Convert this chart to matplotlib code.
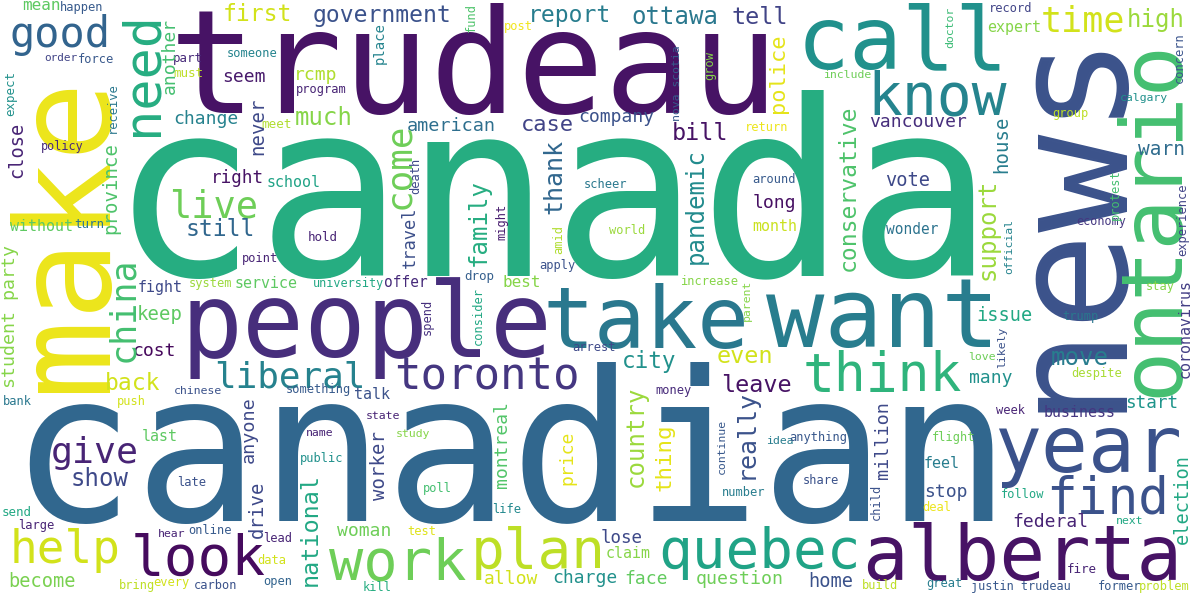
import matplotlib
matplotlib.use("Agg")
import matplotlib.pyplot as plt

# Words of the cloud
WORDS = [
    "canada", "canadian", "trudeau", "news", "make", "people", "call", "take", "want",
    "ontario", "alberta", "year", "quebec", "look", "help", "work", "plan", "know",
    "think", "good", "need", "toronto", "liberal", "find", "time", "high", "live",
    "give", "still", "first", "government", "report", "ottawa", "tell", "mean",
    "happen", "order", "force", "someone", "part", "must", "seem", "change", "meet",
    "policy", "right", "school", "post", "rcmp", "program", "much", "american", "case",
    "company", "scheer", "include", "bill", "return", "vancouver", "around", "long",
    "vote", "record", "expert", "calgary", "group", "warn", "without", "turn", "point",
    "fight", "system", "service", "keep", "cost", "back", "chinese", "something", "bank",
    "push", "talk", "hold", "apply", "university", "offer", "drop", "best", "arrest",
    "world", "month", "wonder", "increase", "city", "even", "leave", "money", "issue",
    "economy", "stay", "trump", "love", "move", "many", "despite", "start", "last",
    "show", "late", "send", "large", "hear", "online", "lead", "become", "data", "bring",
    "every", "carbon", "open", "state", "name", "study", "public", "poll", "life",
    "woman", "test", "allow", "charge", "kill", "idea", "anything", "share", "number",
    "lose", "claim", "face", "question", "home", "build", "week", "business", "flight",
    "feel", "stop", "follow", "deal", "federal", "next", "fire", "great",
    "justin trudeau", "former", "problem",
    # vertical words
    "another", "expect", "receive", "never", "close", "province", "place", "fund",
    "come", "thank", "death", "family", "travel", "police", "nova scotia", "grow",
    "pandemic", "conservative", "doctor", "concern", "house", "support", "protest",
    "experience", "student party", "china", "might", "amid", "spend", "consider",
    "parent", "official", "coronavirus", "likely", "anyone", "drive", "national",
    "worker", "montreal", "price", "country", "thing", "really", "continue", "million",
    "child", "election",
]

# Layout: (centre along word, baseline, em px, rotation, viridis value)
# For rotation 0: (centre x, baseline y); for rotation 90: (baseline x, centre y)
LAYOUT = {
    "canada": (552, 275, 245, 0, 0.62),
    "canadian": (510, 521, 208, 0, 0.33),
    "trudeau": (474, 113, 145, 0, 0.05),
    "news": (1113, 216, 163, 90, 0.25),
    "make": (104, 233, 132, 90, 0.97),
    "people": (367, 357, 103, 0, 0.13),
    "call": (903, 68, 88, 0, 0.50),
    "take": (646, 348, 86, 0, 0.40),
    "want": (883, 347, 97, 0, 0.42),
    "ontario": (1177, 218, 85, 90, 0.70),
    "alberta": (1022, 580, 76, 0, 0.05),
    "year": (1088, 472, 78, 0, 0.25),
    "quebec": (760, 568, 56, 0, 0.58),
    "look": (198, 575, 56, 0, 0.03),
    "help": (65, 563, 46, 0, 0.93),
    "work": (398, 580, 57, 0, 0.78),
    "plan": (538, 568, 56, 0, 0.90),
    "know": (937, 115, 58, 0, 0.45),
    "think": (882, 391, 53, 0, 0.65),
    "good": (60, 47, 42, 0, 0.32),
    "need": (157, 73, 52, 90, 0.62),
    "toronto": (487, 390, 44, 0, 0.16),
    "liberal": (290, 387, 36, 0, 0.44),
    "find": (1108, 513, 51, 0, 0.25),
    "time": (1083, 32, 35, 0, 0.93),
    "high": (1156, 27, 24, 0, 0.85),
    "live": (214, 218, 37, 0, 0.78),
    "give": (95, 463, 36.5, 0, 0.10),
    "still": (220, 236, 23, 0, 0.33),
    "first": (257, 21, 23, 0, 0.93),
    "government": (382, 22, 23, 0, 0.25),
    "report": (570, 22, 23, 0, 0.42),
    "ottawa": (675, 24, 24, 0, 0.40),
    "tell": (760, 24, 23.5, 0, 0.20),
    "mean": (41, 10, 16, 0, 0.75),
    "happen": (82, 11, 12, 0, 0.28),
    "order": (61, 61, 11, 0, 0.20),
    "force": (96, 63, 12, 0, 0.27),
    "someone": (252, 57, 12, 0, 0.45),
    "part": (188, 62, 12.5, 0, 0.12),
    "must": (188, 77, 12.5, 0, 0.90),
    "seem": (244, 82, 18, 0, 0.07),
    "change": (206, 124, 18, 0, 0.44),
    "meet": (277, 128, 12.6, 0, 0.88),
    "policy": (62, 150, 11.7, 0, 0.12),
    "right": (237, 183, 17.6, 0, 0.05),
    "school": (294, 187, 15, 0, 0.58),
    "post": (518, 30, 12, 0, 0.98),
    "rcmp": (316, 80, 18, 0, 0.88),
    "program": (321, 93, 12, 0, 0.10),
    "much": (324, 125, 24, 0, 0.82),
    "american": (451, 131, 18.5, 0, 0.36),
    "case": (547, 131, 22, 0, 0.20),
    "company": (616, 122, 18, 0, 0.25),
    "scheer": (606, 188, 12, 0, 0.40),
    "include": (847, 78, 11.5, 0, 0.78),
    "bill": (700, 140, 23.5, 0, 0.05),
    "return": (767, 131, 12, 0, 0.97),
    "vancouver": (918, 127, 18, 0, 0.13),
    "around": (774, 183, 12, 0, 0.28),
    "long": (774, 208, 18, 0, 0.04),
    "vote": (908, 186, 18.7, 0, 0.22),
    "record": (1011, 12, 12, 0, 0.20),
    "expert": (1014, 32, 15, 0, 0.82),
    "calgary": (1144, 101, 11.5, 0, 0.50),
    "group": (1070, 117, 12, 0, 0.90),
    "warn": (1162, 155, 19.5, 0, 0.35),
    "without": (41, 231, 15, 0, 0.75),
    "turn": (89, 228, 12.5, 0, 0.40),
    "point": (260, 262, 12, 0, 0.10),
    "fight": (160, 292, 15, 0, 0.22),
    "system": (211, 287, 12, 0, 0.85),
    "service": (266, 288, 15, 0, 0.75),
    "keep": (160, 320, 19, 0, 0.75),
    "cost": (154, 356, 18, 0, 0.02),
    "back": (133, 390, 23, 0, 0.93),
    "chinese": (198, 394, 11.5, 0, 0.25),
    "something": (318, 393, 12, 0, 0.28),
    "bank": (17, 405, 12, 0, 0.40),
    "push": (131, 405, 12, 0, 0.93),
    "talk": (372, 399, 15, 0, 0.25),
    "hold": (323, 241, 12.5, 0, 0.10),
    "apply": (557, 269, 12, 0, 0.25),
    "university": (349, 287, 11.7, 0, 0.60),
    "offer": (406, 287, 14.5, 0, 0.12),
    "drop": (479, 280, 12.5, 0, 0.30),
    "best": (522, 287, 16, 0, 0.82),
    "arrest": (594, 351, 12, 0, 0.22),
    "world": (627, 234, 12, 0, 0.85),
    "month": (775, 231, 15, 0, 0.92),
    "wonder": (912, 234, 14.5, 0, 0.38),
    "increase": (709, 285, 12, 0, 0.82),
    "city": (649, 368, 22.6, 0, 0.50),
    "even": (745, 363, 23.5, 0, 0.93),
    "leave": (756, 392, 23.5, 0, 0.05),
    "money": (674, 394, 12, 0, 0.12),
    "issue": (1005, 321, 18.6, 0, 0.60),
    "economy": (1101, 225, 11.7, 0, 0.16),
    "stay": (1160, 290, 12, 0, 0.82),
    "trump": (1080, 320, 12, 0, 0.40),
    "love": (982, 360, 11.5, 0, 0.78),
    "move": (1080, 365, 24, 0, 0.42),
    "many": (991, 383, 18, 0, 0.50),
    "despite": (1097, 377, 12, 0, 0.87),
    "start": (1152, 408, 17.6, 0, 0.52),
    "last": (160, 441, 15, 0, 0.75),
    "show": (100, 486, 24, 0, 0.22),
    "late": (192, 486, 12, 0, 0.25),
    "send": (17, 516, 12.5, 0, 0.60),
    "large": (36, 529, 12, 0, 0.10),
    "hear": (172, 537, 11.5, 0, 0.10),
    "online": (210, 534, 12, 0, 0.28),
    "lead": (278, 542, 12, 0, 0.10),
    "become": (42, 587, 18.6, 0, 0.80),
    "data": (272, 564, 12, 0, 0.93),
    "bring": (137, 589, 12, 0, 0.90),
    "every": (171, 586, 12, 0, 0.93),
    "carbon": (216, 589, 12, 0, 0.25),
    "open": (278, 585, 12, 0, 0.32),
    "state": (383, 419, 11.5, 0, 0.10),
    "name": (320, 436, 11.5, 0, 0.10),
    "study": (413, 437, 11.5, 0, 0.82),
    "public": (322, 462, 12, 0, 0.50),
    "poll": (437, 492, 12, 0, 0.70),
    "life": (507, 513, 12, 0, 0.47),
    "woman": (364, 536, 18, 0, 0.78),
    "test": (422, 535, 12, 0, 0.95),
    "allow": (511, 584, 18, 0, 0.93),
    "charge": (585, 583, 18, 0, 0.50),
    "kill": (377, 591, 12, 0, 0.62),
    "idea": (780, 444, 11.5, 0, 0.42),
    "anything": (818, 441, 12, 0, 0.27),
    "share": (821, 484, 12, 0, 0.25),
    "number": (744, 496, 12, 0, 0.42),
    "lose": (622, 543, 17.5, 0, 0.22),
    "claim": (628, 558, 15, 0, 0.82),
    "face": (646, 584, 18, 0, 0.76),
    "question": (740, 584, 18.3, 0, 0.78),
    "home": (831, 587, 18.7, 0, 0.25),
    "build": (880, 589, 12, 0, 0.90),
    "week": (1011, 414, 12, 0, 0.10),
    "business": (1080, 417, 15, 0, 0.16),
    "flight": (954, 441, 12, 0, 0.78),
    "feel": (942, 468, 15, 0, 0.42),
    "stop": (946, 497, 18, 0, 0.25),
    "follow": (1023, 498, 12, 0, 0.60),
    "deal": (937, 511, 12, 0, 0.97),
    "federal": (1050, 527, 18, 0, 0.10),
    "next": (1130, 524, 11.5, 0, 0.60),
    "fire": (1082, 573, 12.5, 0, 0.10),
    "great": (944, 587, 12, 0, 0.42),
    "justin trudeau": (1021, 590, 11.8, 0, 0.27),
    "former": (1120, 590, 12, 0, 0.28),
    "problem": (1164, 590, 12, 0, 0.90),
    # vertical (baseline x, centre y)
    "another": (175, 56, 18, 90, 0.70),
    "expect": (14, 93, 12.5, 90, 0.50),
    "receive": (116, 108, 12, 90, 0.40),
    "never": (263, 126, 19, 90, 0.22),
    "close": (22, 150, 18.6, 90, 0.10),
    "province": (116, 188, 19, 90, 0.72),
    "place": (384, 43, 14, 90, 0.45),
    "fund": (475, 17, 12, 90, 0.72),
    "come": (409, 166, 36, 90, 0.78),
    "thank": (561, 177, 25, 90, 0.33),
    "death": (419, 176, 12, 90, 0.22),
    "family": (486, 222, 24, 90, 0.62),
    "travel": (415, 237, 17, 90, 0.24),
    "police": (784, 73, 22, 90, 0.96),
    "nova scotia": (680, 83, 11.5, 90, 0.28),
    "grow": (713, 66, 12, 90, 0.82),
    "pandemic": (703, 206, 24, 90, 0.48),
    "conservative": (855, 188, 23, 90, 0.72),
    "doctor": (953, 27, 11.5, 90, 0.68),
    "concern": (1183, 58, 12, 90, 0.26),
    "house": (1007, 144, 19, 90, 0.42),
    "support": (995, 229, 24, 90, 0.85),
    "protest": (1119, 195, 12, 90, 0.70),
    "experience": (1186, 220, 12, 90, 0.20),
    "student party": (15, 317, 18.3, 90, 0.82),
    "china": (133, 309, 35, 90, 0.70),
    "might": (505, 222, 12, 90, 0.08),
    "amid": (562, 239, 12, 90, 0.88),
    "spend": (431, 317, 12, 90, 0.14),
    "consider": (482, 316, 12, 90, 0.60),
    "parent": (750, 300, 11.5, 90, 0.82),
    "official": (1012, 247, 11.5, 90, 0.45),
    "coronavirus": (1190, 328, 15, 90, 0.18),
    "likely": (1005, 347, 11.5, 90, 0.25),
    "anyone": (254, 430, 18.5, 90, 0.22),
    "drive": (263, 509, 19, 90, 0.22),
    "national": (317, 530, 23.4, 90, 0.60),
    "worker": (385, 465, 19, 90, 0.22),
    "montreal": (507, 444, 18, 90, 0.73),
    "price": (572, 458, 18, 90, 0.96),
    "country": (643, 436, 24, 90, 0.85),
    "thing": (671, 457, 22.5, 90, 0.96),
    "really": (753, 434, 25, 90, 0.25),
    "continue": (725, 447, 11.5, 90, 0.27),
    "million": (888, 440, 18.5, 90, 0.22),
    "child": (880, 502, 12, 90, 0.25),
    "election": (1188, 499, 18.7, 90, 0.60),
}

W, H = 1200, 600
fig = plt.figure(figsize=(12, 6), dpi=100, facecolor="white")
ax = fig.add_axes([0, 0, 1, 1])
ax.set_xlim(0, W)
ax.set_ylim(H, 0)
ax.axis("off")

cmap = matplotlib.colormaps["viridis"]
PX_TO_PT = 72.0 / fig.dpi

for word in WORDS:
    a, b, em, rot, cval = LAYOUT[word]
    ax.text(a, b, word, family="DejaVu Sans Mono", fontsize=em * PX_TO_PT,
            color=cmap(cval), ha="center", va="baseline",
            rotation=rot, rotation_mode="anchor")

fig.savefig("out.png", dpi=100, facecolor="white")
